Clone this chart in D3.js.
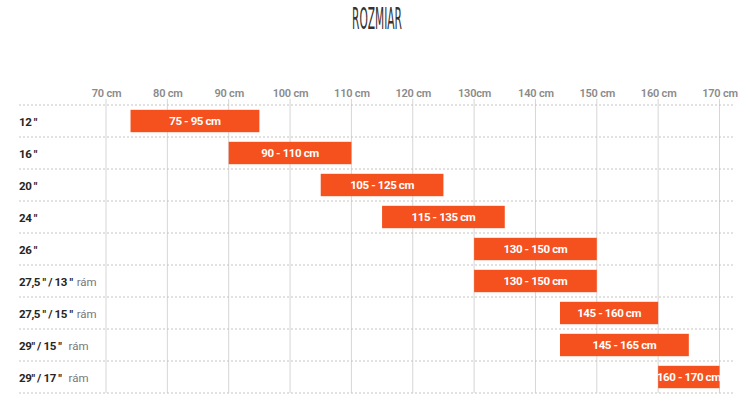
<!DOCTYPE html>
<html><head><meta charset="utf-8">
<script src="https://cdn.jsdelivr.net/npm/d3@7/dist/d3.min.js"></script>
<style>
html,body{margin:0;padding:0;background:#fff;}
svg{display:block;font-family:Roboto,"Noto Sans",sans-serif;}
</style></head>
<body><svg id="c" width="750" height="412"></svg>
<script>
const categories = ['12 "', '16 "', '20 "', '24 "', '26 "', '27,5 " / 13 "', '27,5 " / 15 "', '29" / 15 "', '29" / 17 "'];
const frameSuffix = ['', '', '', '', '', 'rám', 'rám', 'rám', 'rám'];
const starts = [74, 90, 105, 115, 130, 130, 144, 144, 160];
const ends = [95, 110, 125, 135, 150, 150, 160, 165, 170];
const barLabels = ['75 - 95 cm', '90 - 110 cm', '105 - 125 cm', '115 - 135 cm', '130 - 150 cm', '130 - 150 cm', '145 - 160 cm', '145 - 165 cm', '160 - 170 cm'];
const tickValues = [70, 80, 90, 100, 110, 120, 130, 140, 150, 160, 170];
const tickLabels = ['70 cm', '80 cm', '90 cm', '100 cm', '110 cm', '120 cm', '130cm', '140 cm', '150 cm', '160 cm', '170 cm'];

const svg = d3.select('#c');
const x = d3.scaleLinear().domain([70, 170]).range([106, 719.5]);
const y = d3.scaleBand().domain(categories).range([105, 393]).paddingInner(0.3).paddingOuter(0.15);
const step = y.step();

// title (condensed by horizontal scaling)
const tg = svg.append('g');
const tt = tg.append('text').attr('x', 0).attr('y', 0).attr('text-anchor', 'middle')
  .attr('font-family', '"DejaVu Sans Condensed", "Liberation Sans Narrow", sans-serif')
  .attr('font-size', 31).attr('fill', '#333')
  .text('ROZMIAR');
const tw = tt.node().getComputedTextLength();
tg.attr('transform', `translate(377,29) scale(${50 / tw},1)`);

// vertical grid
svg.append('g').selectAll('line').data(tickValues).join('line')
  .attr('x1', d => x(d)).attr('x2', d => x(d))
  .attr('y1', 99).attr('y2', 393)
  .attr('stroke', '#d6d6d6').attr('stroke-width', 1);

// horizontal dashed separators
const bounds = categories.map(c => y(c) - (step - y.bandwidth()) / 2).concat([y(categories[categories.length - 1]) + y.bandwidth() + (step - y.bandwidth()) / 2]);
svg.append('g').selectAll('line').data(bounds).join('line')
  .attr('x1', 19).attr('x2', 734)
  .attr('y1', d => d).attr('y2', d => d)
  .attr('stroke', '#c4c4c4').attr('stroke-width', 1).attr('stroke-dasharray', '2,2');

// top axis
const ax = svg.append('g').attr('transform', 'translate(0,97)')
  .call(d3.axisTop(x).tickValues(tickValues).tickSize(0).tickPadding(0)
    .tickFormat((d, i) => tickLabels[i]));
ax.select('.domain').remove();
ax.selectAll('text').attr('font-family', 'Roboto, sans-serif').attr('font-size', 11)
  .attr('font-weight', 600).attr('fill', '#8a8a8a').attr('letter-spacing', -0.2);

// bars
const rows = categories.map((c, i) => ({c, s: starts[i], e: ends[i], l: barLabels[i], f: frameSuffix[i]}));
svg.append('g').selectAll('rect').data(rows).join('rect')
  .attr('x', d => x(d.s)).attr('width', d => x(d.e) - x(d.s))
  .attr('y', d => y(d.c)).attr('height', y.bandwidth())
  .attr('fill', '#f4511e');

svg.append('g').selectAll('text').data(rows).join('text')
  .attr('x', d => (x(d.s) + x(d.e)) / 2).attr('y', d => y(d.c) + y.bandwidth() / 2)
  .attr('dy', '0.35em').attr('text-anchor', 'middle')
  .attr('font-size', 11.5).attr('font-weight', 700).attr('fill', '#fff').attr('letter-spacing', -0.4)
  .text(d => d.l);

// row labels
const lab = svg.append('g').selectAll('text').data(rows).join('text')
  .attr('x', 19).attr('y', d => y(d.c) + y.bandwidth() / 2 + 1)
  .attr('dy', '0.35em').attr('font-size', 11.5);
lab.append('tspan').attr('font-weight', 700).attr('fill', '#262626').attr('letter-spacing', -0.4).text(d => d.c);
lab.append('tspan').attr('dx', d => d.c.startsWith('29') ? 7 : 4).attr('font-weight', 400).attr('fill', '#777').text(d => d.f);
</script></body></html>
